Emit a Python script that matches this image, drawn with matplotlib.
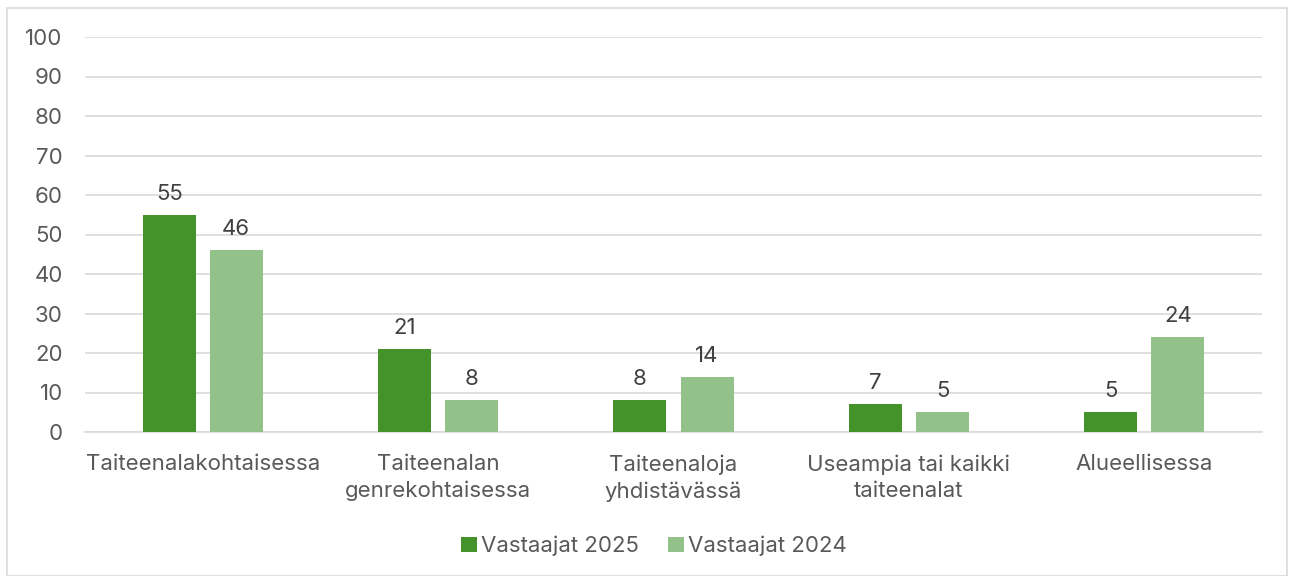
import numpy as np
import matplotlib.pyplot as plt
from matplotlib.patches import Rectangle

categories = ["Taiteenalakohtaisessa", "Taiteenalan\ngenrekohtaisessa",
              "Taiteenaloja\nyhdistävässä", "Useampia tai kaikki\ntaiteenalat",
              "Alueellisessa"]
v2025 = [55, 21, 8, 7, 5]
v2024 = [46, 8, 14, 5, 24]
series_names = ["Vastaajat 2025", "Vastaajat 2024"]

dark = "#43922a"
light = "#92c28a"
txt = "#595959"

plt.rcParams['font.family'] = ['Inter', 'DejaVu Sans']
fs = 16

fig = plt.figure(figsize=(12.9, 5.76), dpi=100)
ax = fig.add_axes([85/1290, 1-432/576, (1262-85)/1290, (432-37)/576])

x = np.arange(len(categories))
w = 0.225
off = 0.1425
b1 = ax.bar(x - off, v2025, w, color=dark, label=series_names[0], zorder=3)
b2 = ax.bar(x + off, v2024, w, color=light, label=series_names[1], zorder=3)
for bars in (b1, b2):
    ax.bar_label(bars, padding=8, fontsize=fs, color="#404040")

ax.set_xlim(-0.5, len(categories) - 0.5)
ax.set_ylim(0, 100)
ax.set_yticks(range(0, 101, 10))
ax.yaxis.grid(True, color="#d9d9d9", lw=1.2, zorder=0)
ax.set_xticks(x)
ax.set_xticklabels(categories, fontsize=fs, color=txt, linespacing=1.4)
ax.tick_params(axis='y', labelsize=fs, labelcolor=txt, length=0, pad=16)
ax.tick_params(axis='x', length=0, pad=16)
for s in ["top", "right", "left"]:
    ax.spines[s].set_visible(False)
ax.spines["bottom"].set_color("#d9d9d9")
ax.spines["bottom"].set_linewidth(1.2)

fig.legend(handles=[b1, b2], labels=series_names, loc="center",
           bbox_to_anchor=(654/1290, 1-546/576), ncol=2, frameon=False,
           fontsize=fs, labelcolor=txt, handlelength=0.7, handleheight=0.7,
           handletextpad=0.2, columnspacing=1.3)

fig.patches.append(Rectangle((7/1290, 0), 1280/1290, 1-8/576, transform=fig.transFigure,
                             fill=False, edgecolor="#d9d9d9", lw=1.2))

fig.savefig("out.png", dpi=100)
